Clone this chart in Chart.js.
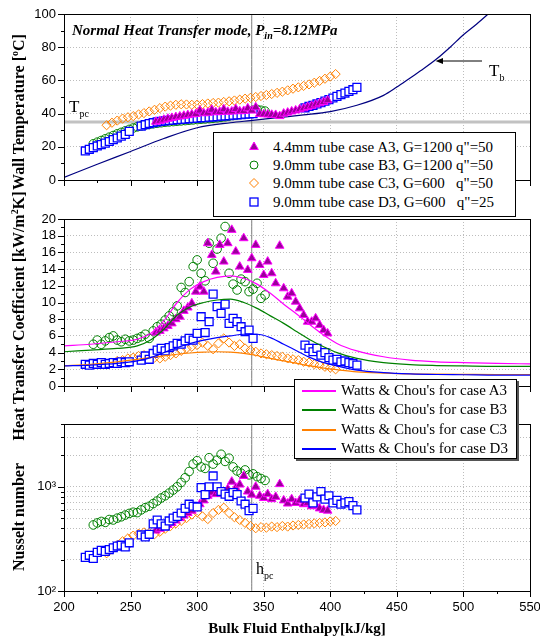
<!DOCTYPE html>
<html>
<head>
<meta charset="utf-8">
<title>Normal Heat Transfer mode, Pin=8.12MPa</title>
<script src="https://cdn.jsdelivr.net/npm/chart.js@4.4.1/dist/chart.umd.min.js"></script>
<style>
  html, body { margin: 0; padding: 0; background: #fff; }
  #wrap { position: relative; width: 540px; height: 639px; overflow: hidden;
          font-family: "Liberation Serif", "Times New Roman", serif; color: #000; }
  #wrap canvas { position: absolute; left: 0; }
  .txt { position: absolute; white-space: nowrap; line-height: 1; }
  .sub { position: relative; font-size: 10px; }
  .ytitle { position: absolute; white-space: nowrap; line-height: 1; font-weight: bold; font-size: 16px;
            transform: translate(-50%, -50%) rotate(-90deg); }
  .legend { position: absolute; box-sizing: border-box; background: #fff; border: 1px solid #000;
            font-size: 15px; line-height: 1; }
  .legend .row { position: absolute; white-space: pre; }
  .legend svg { position: absolute; overflow: visible; }
  .legend .ln { position: absolute; height: 2px; width: 34px; }
  .pad { display: inline-block; width: 0.5em; }
</style>
</head>
<body>
<div id="wrap">
  <canvas id="wallChart" width="540" height="200" style="top:0"></canvas>
  <canvas id="htcChart" width="540" height="200" style="top:200px"></canvas>
  <canvas id="nuChart" width="540" height="239" style="top:400px"></canvas>

  <div class="txt" style="left:72px;top:23px;font-size:15px;font-weight:bold;font-style:italic">Normal Heat Transfer mode, P<span class="sub" style="top:4px">in</span>=8.12MPa</div>
  <div class="txt" style="left:69px;top:98px;font-size:17px">T<span class="sub" style="top:5px">pc</span></div>
  <div class="txt" style="left:489px;top:62px;font-size:17px">T<span class="sub" style="top:5px">b</span></div>
  <svg style="position:absolute;left:430px;top:55px" width="60" height="12">
    <line x1="52" y1="6" x2="11" y2="6" stroke="#000" stroke-width="1"/>
    <polygon points="5.6,6 13,3 13,9" fill="#000"/>
  </svg>
  <div class="txt" style="left:256px;top:561px;font-size:16px">h<span class="sub" style="top:5px">pc</span></div>

  <div class="ytitle" style="left:19px;top:112px">Wall Temperature [<span class="sub" style="top:-6px">o</span>C]</div>
  <div class="ytitle" style="left:19px;top:316px">Heat Transfer Coefficient [kW/m<span class="sub" style="top:-6px">2</span>K]</div>
  <div class="ytitle" style="left:19px;top:517px">Nusselt number</div>
  <div class="txt" style="left:297px;top:621px;font-size:15px;font-weight:bold;transform:translateX(-50%)">Bulk Fluid Enthalpy[kJ/kg]</div>

  <div class="legend" style="left:213px;top:132px;width:303px;height:85px">
    <svg style="left:34px;top:8px" width="12" height="12"><polygon points="6,1 10.3,8.5 1.7,8.5" fill="#990099" stroke="#ff00ff" stroke-width="1"/></svg>
    <div class="row" style="left:59px;top:7px">4.4mm tube case A3, G=1200 q&quot;=50</div>
    <svg style="left:34px;top:26px" width="12" height="12"><circle cx="6" cy="6" r="4" fill="none" stroke="#008000" stroke-width="1"/></svg>
    <div class="row" style="left:59px;top:24.5px">9.0mm tube case B3, G=1200 q&quot;=50</div>
    <svg style="left:34px;top:44px" width="12" height="12"><polygon points="6,1.5 10.5,6 6,10.5 1.5,6" fill="none" stroke="#ff8000" stroke-width="1"/></svg>
    <div class="row" style="left:59px;top:43px">9.0mm tube case C3, G=600<span class="pad"></span> q&quot;=50</div>
    <svg style="left:34px;top:63px" width="12" height="12"><rect x="2" y="2" width="8" height="8" fill="#fff" stroke="#0000ff" stroke-width="1.3"/></svg>
    <div class="row" style="left:59px;top:62px">9.0mm tube case D3, G=600<span class="pad"></span> q&quot;=25</div>
  </div>

  <div class="legend" style="left:294px;top:379px;width:223px;height:80px;box-shadow:2px 2px 0 #555">
    <div class="ln" style="left:7px;top:10px;background:#ff00ff"></div>
    <div class="row" style="left:46px;top:3px">Watts &amp; Chou's for case A3</div>
    <div class="ln" style="left:7px;top:29px;background:#008000"></div>
    <div class="row" style="left:46px;top:22px">Watts &amp; Chou's for case B3</div>
    <div class="ln" style="left:7px;top:49px;background:#ff8000"></div>
    <div class="row" style="left:46px;top:42px">Watts &amp; Chou's for case C3</div>
    <div class="ln" style="left:7px;top:68px;background:#0000ff"></div>
    <div class="row" style="left:46px;top:61px">Watts &amp; Chou's for case D3</div>
  </div>
</div>

<script>
/**
 * Reference values
 */
const H_PC = 341;   // pseudo-critical enthalpy [kJ/kg]
const T_PC = 35;    // pseudo-critical temperature [°C]

// case A3 : 4.4mm tube, G=1200, q"=50
const a3H = [269, 272, 275, 278, 281, 284, 287, 290, 293, 296,
             299, 302, 305, 308, 311, 314, 317, 320, 323, 326,
             329, 332, 335, 338, 341, 344, 347, 350, 353, 356,
             359, 362, 365, 368, 371, 374, 377, 380, 383, 386,
             389, 392, 395, 398];
const a3Tw = [35.1, 35.6, 36.3, 36.9, 37.4, 37.9, 38.3, 38.7, 39.1, 39.5,
              39.8, 41.8, 40.2, 40.5, 42.3, 40.8, 41.0, 42.6, 41.1, 41.3,
              42.8, 41.4, 41.6, 43.2, 41.8, 43.8, 39.8, 39.6, 39.5, 39.3,
              39.2, 38.5, 40.0, 40.6, 41.3, 41.9, 42.6, 43.2, 44.0, 44.7,
              45.5, 46.2, 47.0, 48.0];
const a3Htc = [6.4, 6.6, 6.9, 7.2, 7.5, 8.0, 8.3, 9.0, 9.4, 9.9,
               11.3, 11.9, 11.3, 17.1, 15.7, 13.7, 16.9, 14.9, 17.1, 18.7,
               16.1, 14.3, 17.7, 13.9, 15.3, 16.9, 14.5, 13.3, 14.9, 13.5,
               12.3, 16.8, 11.7, 10.7, 11.1, 10.1, 9.3, 8.5, 7.7, 7.7,
               8.1, 7.3, 6.7, 6.3];
const a3Nu = [380, 395, 410, 430, 450, 475, 500, 530, 560, 590,
              630, 680, 740, 820, 880, 850, 900, 870, 950, 1120,
              980, 1050, 1270, 900, 840, 1000, 820, 780, 850, 760,
              800, 1060, 740, 690, 760, 700, 740, 680, 700, 650,
              670, 620, 600, 590];

// case B3 : 9.0mm tube, G=1200, q"=50
const b3H = [222, 225, 228, 231, 234, 237, 240, 243, 246, 249,
             252, 255, 258, 261, 264, 267, 270, 273, 276, 279,
             282, 285, 288, 291, 294, 297, 300, 303, 306, 309,
             312, 315, 318, 321, 324, 327, 330, 333, 336, 339,
             342, 345, 348, 351];
const b3Tw = [21.8, 22.8, 23.8, 24.8, 25.8, 26.8, 27.8, 28.7, 29.6, 30.5,
              31.3, 32.0, 32.6, 33.1, 33.5, 33.9, 34.2, 34.5, 34.8, 35.0,
              35.2, 35.4, 35.6, 35.8, 36.0, 36.2, 36.4, 36.6, 36.8, 37.0,
              37.2, 37.5, 37.8, 38.1, 38.5, 38.9, 39.4, 39.9, 40.5, 41.2,
              42.0, 42.5, 42.0, 41.5];
const b3Htc = [5.0, 5.5, 5.0, 5.4, 5.8, 6.0, 5.5, 5.3, 5.6, 5.4,
               5.5, 5.7, 5.9, 6.2, 5.7, 6.6, 7.1, 7.4, 7.9, 8.4,
               8.9, 9.6, 11.8, 11.2, 12.5, 14.3, 15.1, 13.5, 12.6, 17.1,
               14.7, 16.4, 17.7, 19.1, 13.5, 12.2, 11.5, 12.8, 12.5, 11.3,
               11.6, 12.3, 10.5, 10.9];
const b3Nu = [430, 450, 465, 455, 485, 480, 500, 515, 535, 555,
              570, 565, 600, 630, 650, 690, 730, 780, 820, 870,
              930, 1000, 1100, 1220, 1400, 1650, 1780, 1550, 1500, 1900,
              1650, 1800, 2050, 1750, 1880, 1550, 1420, 1350, 1450, 1300,
              1330, 1250, 1200, 1150];

// case C3 : 9.0mm tube, G=600, q"=50
const c3H = [232, 236, 240, 244, 248, 252, 256, 260, 264, 268,
             272, 276, 280, 284, 288, 292, 296, 300, 304, 308,
             312, 316, 320, 324, 328, 332, 336, 340, 344, 348,
             352, 356, 360, 364, 368, 372, 376, 380, 384, 388,
             392, 396, 400, 404];
const c3Tw = [33.0, 34.5, 35.8, 37.0, 37.8, 38.5, 39.5, 40.3, 41.3, 42.3,
              43.3, 44.2, 44.8, 45.3, 45.6, 45.5, 45.3, 45.4, 45.7, 46.1,
              46.4, 46.6, 47.0, 47.4, 47.9, 48.4, 49.0, 49.5, 50.0, 50.6,
              51.2, 51.8, 52.5, 53.2, 54.0, 55.0, 55.8, 56.7, 57.6, 58.6,
              59.7, 61.0, 62.3, 63.8];
const c3Htc = [2.6, 2.8, 3.0, 3.1, 3.3, 3.4, 3.6, 3.7, 3.5, 3.4,
               3.3, 3.5, 3.7, 3.9, 4.2, 4.5, 4.7, 4.9, 5.2, 4.8,
               4.4, 5.1, 5.7, 5.2, 4.8, 5.0, 4.5, 4.3, 4.1, 3.9,
               3.8, 3.7, 3.6, 3.5, 3.3, 3.2, 3.1, 2.9, 2.8, 2.6,
               2.5, 2.3, 2.2, 2.0];
const c3Nu = [230, 250, 275, 300, 320, 340, 355, 365, 360, 350,
              370, 395, 420, 445, 470, 500, 540, 570, 520, 490,
              560, 600, 630, 560, 510, 480, 450, 420, 400, 410,
              405, 415, 410, 420, 415, 425, 430, 435, 440, 445,
              450, 455, 465, 470];

// case D3 : 9.0mm tube, G=600, q"=25
const d3H = [216, 219, 222, 225, 228, 231, 234, 237, 240, 243,
             246, 249, 258, 261, 264, 267, 270, 273, 276, 279,
             282, 285, 288, 291, 294, 297, 300, 303, 306, 309,
             312, 315, 318, 321, 324, 327, 330, 333, 336, 339,
             342, 381, 384, 387, 390, 393, 396, 399, 402, 405,
             408, 411, 414, 417, 420];
const d3Tw = [17.5, 18.5, 19.5, 20.5, 21.3, 22.2, 23.2, 24.3, 25.3, 26.4,
              27.5, 29.3, 32.5, 33.3, 34.0, 34.5, 35.0, 35.3, 35.6, 35.9,
              36.1, 36.3, 36.5, 36.7, 36.9, 37.1, 37.3, 37.5, 37.6, 37.8,
              38.0, 38.2, 38.4, 38.6, 38.8, 39.0, 39.2, 39.4, 39.6, 39.8,
              40.0, 43.5, 44.3, 45.0, 45.8, 46.6, 47.5, 48.4, 49.4, 50.4,
              51.4, 52.4, 53.4, 54.4, 55.8];
const d3Htc = [2.6, 2.5, 2.7, 2.6, 2.8, 2.6, 2.7, 2.8, 2.7, 2.9,
               2.8, 2.9, 3.1, 3.6, 3.2, 3.9, 4.3, 4.5, 4.2, 4.6,
               4.8, 5.1, 5.0, 5.4, 5.7, 5.5, 6.3, 8.3, 6.4, 7.7,
               11.0, 9.5, 8.7, 9.8, 7.5, 8.1, 7.7, 7.1, 6.5, 6.7,
               5.7, 4.9, 4.5, 4.1, 4.5, 3.7, 4.0, 3.4, 3.1, 3.2,
               2.9, 3.0, 2.8, 2.7, 2.5];
const d3Nu = [210, 220, 205, 235, 245, 240, 250, 260, 270, 275,
              265, 290, 345, 330, 350, 440, 480, 440, 420, 470,
              500, 520, 560, 620, 680, 650, 640, 980, 840, 1000,
              1270, 1000, 900, 850, 810, 880, 840, 730, 680, 590,
              620, 780, 850, 700, 800, 900, 760, 820, 700, 740,
              680, 700, 720, 660, 600];

// Watts & Chou correlation [kW/m2K]
const wcH = [200, 220, 240, 255, 265, 275, 285, 295, 305, 315,
             325, 335, 345, 355, 365, 375, 385, 395, 405, 420,
             440, 460, 480, 500, 525, 550];
const wcA3 = [4.8, 5.0, 5.3, 5.6, 6.3, 7.8, 10.0, 11.6, 12.5, 13.0,
              13.2, 12.9, 12.2, 11.1, 9.8, 8.6, 7.3, 6.1, 5.1, 4.2,
              3.5, 3.1, 2.9, 2.8, 2.7, 2.65];
const wcB3 = [4.1, 4.3, 4.5, 4.8, 5.5, 6.8, 8.5, 9.5, 10.0, 10.3,
              10.4, 10.0, 9.3, 8.4, 7.5, 6.5, 5.5, 4.7, 4.0, 3.3,
              2.8, 2.55, 2.45, 2.4, 2.35, 2.35];
const wcC3 = [2.4, 2.6, 2.9, 3.2, 3.4, 3.6, 3.8, 3.95, 4.05, 4.1,
              4.05, 3.9, 3.65, 3.3, 3.0, 2.7, 2.4, 2.15, 1.95, 1.7,
              1.55, 1.45, 1.42, 1.4, 1.38, 1.38];
const wcD3 = [2.4, 2.5, 2.7, 3.0, 3.4, 4.0, 4.6, 5.1, 5.5, 5.8,
              6.0, 6.2, 6.2, 5.8, 5.0, 4.2, 3.4, 2.8, 2.4, 1.9,
              1.6, 1.45, 1.38, 1.35, 1.3, 1.3];

// bulk fluid temperature T_b [°C]
const tbH = [200, 225, 250, 275, 300, 325, 340, 360, 380, 400,
             420, 440, 450, 460, 470, 480, 490, 500, 510, 520];
const tbT = [1.6, 9.5, 17.2, 25.0, 31.5, 34.5, 35.8, 37.5, 39.2, 41.2,
             45.0, 51.0, 56.0, 61.5, 67.0, 73.0, 80.0, 87.5, 94.0, 101.0];

// Nusselt axis ticks
const nuTicks = [100, 200, 300, 400, 500, 600, 700, 800, 900, 1000, 2000, 3000, 4000];

/**
 * Styles
 */
const GRID = '#bdbdbd';
const NONE = 'rgba(0,0,0,0)';
const A3_STYLE = { pointStyle: 'triangle', pointRadius: 5, backgroundColor: '#990099', borderColor: '#ff00ff', borderWidth: 1 };
const B3_STYLE = { pointStyle: 'circle', pointRadius: 4.3, backgroundColor: NONE, borderColor: '#008000', borderWidth: 1 };
const C3_STYLE = { pointStyle: 'rectRot', pointRadius: 4.6, backgroundColor: NONE, borderColor: '#ff8000', borderWidth: 1 };
const D3_STYLE = { pointStyle: 'rect', pointRadius: 5.6, backgroundColor: '#ffffff', borderColor: '#0000ff', borderWidth: 1.3 };

Chart.defaults.animation = false;
Chart.defaults.font.family = '"Liberation Sans", Arial, sans-serif';
Chart.defaults.font.size = 13;
Chart.defaults.color = '#000';
Chart.defaults.plugins.legend.display = false;
Chart.defaults.plugins.tooltip.enabled = false;

const pts = (xs, ys) => xs.map((x, i) => ({ x, y: ys[i] }));

function scatter(label, xs, ys, style, order) {
    return { label, data: pts(xs, ys), showLine: false, order, pointHoverRadius: style.pointRadius, ...style };
}

function curve(label, xs, ys, color, width, order) {
    return {
        label, data: pts(xs, ys), showLine: true, order,
        pointRadius: 0, borderColor: color, borderWidth: width,
        cubicInterpolationMode: 'monotone', fill: false
    };
}

function hpcLine(yMin, yMax) {
    return curve('h_pc', [H_PC, H_PC], [yMin, yMax], '#7a7a7a', 1, 20);
}

/**
 * Shared enthalpy axis (minor ticks every 25)
 */
function xAxis(showLabels, height) {
    return {
        type: 'linear', min: 200, max: 550,
        afterFit: s => { s.height = height; s.paddingLeft = 0; s.paddingRight = 0; },
        ticks: {
            display: showLabels, stepSize: 25, autoSkip: false, maxRotation: 0, padding: 9,
            callback: v => (v % 50 === 0 ? v : '')
        },
        grid: {
            drawTicks: false,
            color: c => (c.tick && c.tick.value % 50 === 0 && c.tick.value > 200 && c.tick.value < 550 ? GRID : NONE)
        },
        border: { display: false, dash: [1, 2] }
    };
}

function yLinear(min, max, step, labelEvery) {
    return {
        min, max,
        afterFit: s => { s.width = 64; s.paddingTop = 0; s.paddingBottom = 0; },
        ticks: { stepSize: step, autoSkip: false, padding: 8, callback: v => (v % labelEvery === 0 ? v : '') },
        grid: {
            drawTicks: false,
            color: c => (c.tick && c.tick.value % labelEvery === 0 && c.tick.value > min && c.tick.value < max ? GRID : NONE)
        },
        border: { display: false, dash: [1, 2] }
    };
}

const yLog = {
    type: 'logarithmic', min: 100, max: 4000,
    afterBuildTicks: s => { s.ticks = nuTicks.map(v => ({ value: v })); },
    afterFit: s => { s.width = 64; s.paddingTop = 0; s.paddingBottom = 0; },
    ticks: { autoSkip: false, padding: 8, callback: v => (v === 100 ? '10²' : v === 1000 ? '10³' : '') },
    grid: {
        drawTicks: false,
        color: c => (c.tick && c.tick.value > 100 && c.tick.value < 4000 ? GRID : NONE)
    },
    border: { display: false, dash: [1, 2] }
};

/**
 * Frame box + outward tick marks (major / minor)
 */
function framePlugin(isMajorY) {
    return {
        id: 'frame',
        afterDatasetsDraw(chart) {
            const { ctx, chartArea: a, scales: { x, y } } = chart;
            ctx.save();
            ctx.strokeStyle = '#000';
            ctx.lineWidth = 1;
            ctx.beginPath();
            x.ticks.forEach(t => {
                const px = Math.round(x.getPixelForValue(t.value)) + 0.5;
                ctx.moveTo(px, a.bottom);
                ctx.lineTo(px, a.bottom + (t.value % 50 === 0 ? 6 : 3));
            });
            y.ticks.forEach(t => {
                const py = Math.round(y.getPixelForValue(t.value)) + 0.5;
                ctx.moveTo(a.left, py);
                ctx.lineTo(a.left - (isMajorY(t.value) ? 6 : 3), py);
            });
            ctx.stroke();
            ctx.strokeRect(Math.round(a.left) + 0.5, Math.round(a.top) + 0.5,
                Math.round(a.right - a.left), Math.round(a.bottom - a.top));
            ctx.restore();
        }
    };
}

function makePanel(id, padTop, xHeight, showX, yScale, isMajorY, datasets) {
    return new Chart(document.getElementById(id), {
        type: 'scatter',
        data: { datasets },
        options: {
            responsive: false,
            events: [],
            layout: { padding: { top: padTop, right: 10, left: 0, bottom: 0 } },
            scales: { x: xAxis(showX, xHeight), y: yScale }
        },
        plugins: [framePlugin(isMajorY)]
    });
}

// wall temperature
makePanel('wallChart', 14, 20, false, yLinear(0, 100, 10, 20), v => v % 20 === 0, [
    curve('T_pc', [200, 550], [T_PC, T_PC], '#c2c2c2', 3, 30),
    hpcLine(0, 100),
    curve('T_b', tbH, tbT, '#000080', 1.2, 10),
    scatter('B3', b3H, b3Tw, B3_STYLE, 5),
    scatter('D3', d3H, d3Tw, D3_STYLE, 4),
    scatter('C3', c3H, c3Tw, C3_STYLE, 3),
    scatter('A3', a3H, a3Tw, A3_STYLE, 2)
]);

// heat transfer coefficient
makePanel('htcChart', 19, 14, false, yLinear(0, 20, 1, 2), v => v % 2 === 0, [
    hpcLine(0, 20),
    scatter('B3', b3H, b3Htc, B3_STYLE, 9),
    scatter('C3', c3H, c3Htc, C3_STYLE, 8),
    scatter('D3', d3H, d3Htc, D3_STYLE, 7),
    scatter('A3', a3H, a3Htc, A3_STYLE, 6),
    curve('W&C B3', wcH, wcB3, '#008000', 1.2, 4),
    curve('W&C C3', wcH, wcC3, '#ff8000', 1.2, 3),
    curve('W&C D3', wcH, wcD3, '#0000ff', 1.2, 2),
    curve('W&C A3', wcH, wcA3, '#ff00ff', 1.2, 1)
]);

// Nusselt number
makePanel('nuChart', 24, 48, true, yLog, v => v === 100 || v === 1000, [
    hpcLine(100, 4000),
    scatter('B3', b3H, b3Nu, B3_STYLE, 5),
    scatter('C3', c3H, c3Nu, C3_STYLE, 4),
    scatter('A3', a3H, a3Nu, A3_STYLE, 3),
    scatter('D3', d3H, d3Nu, D3_STYLE, 2)
]);
</script>
</body>
</html>
